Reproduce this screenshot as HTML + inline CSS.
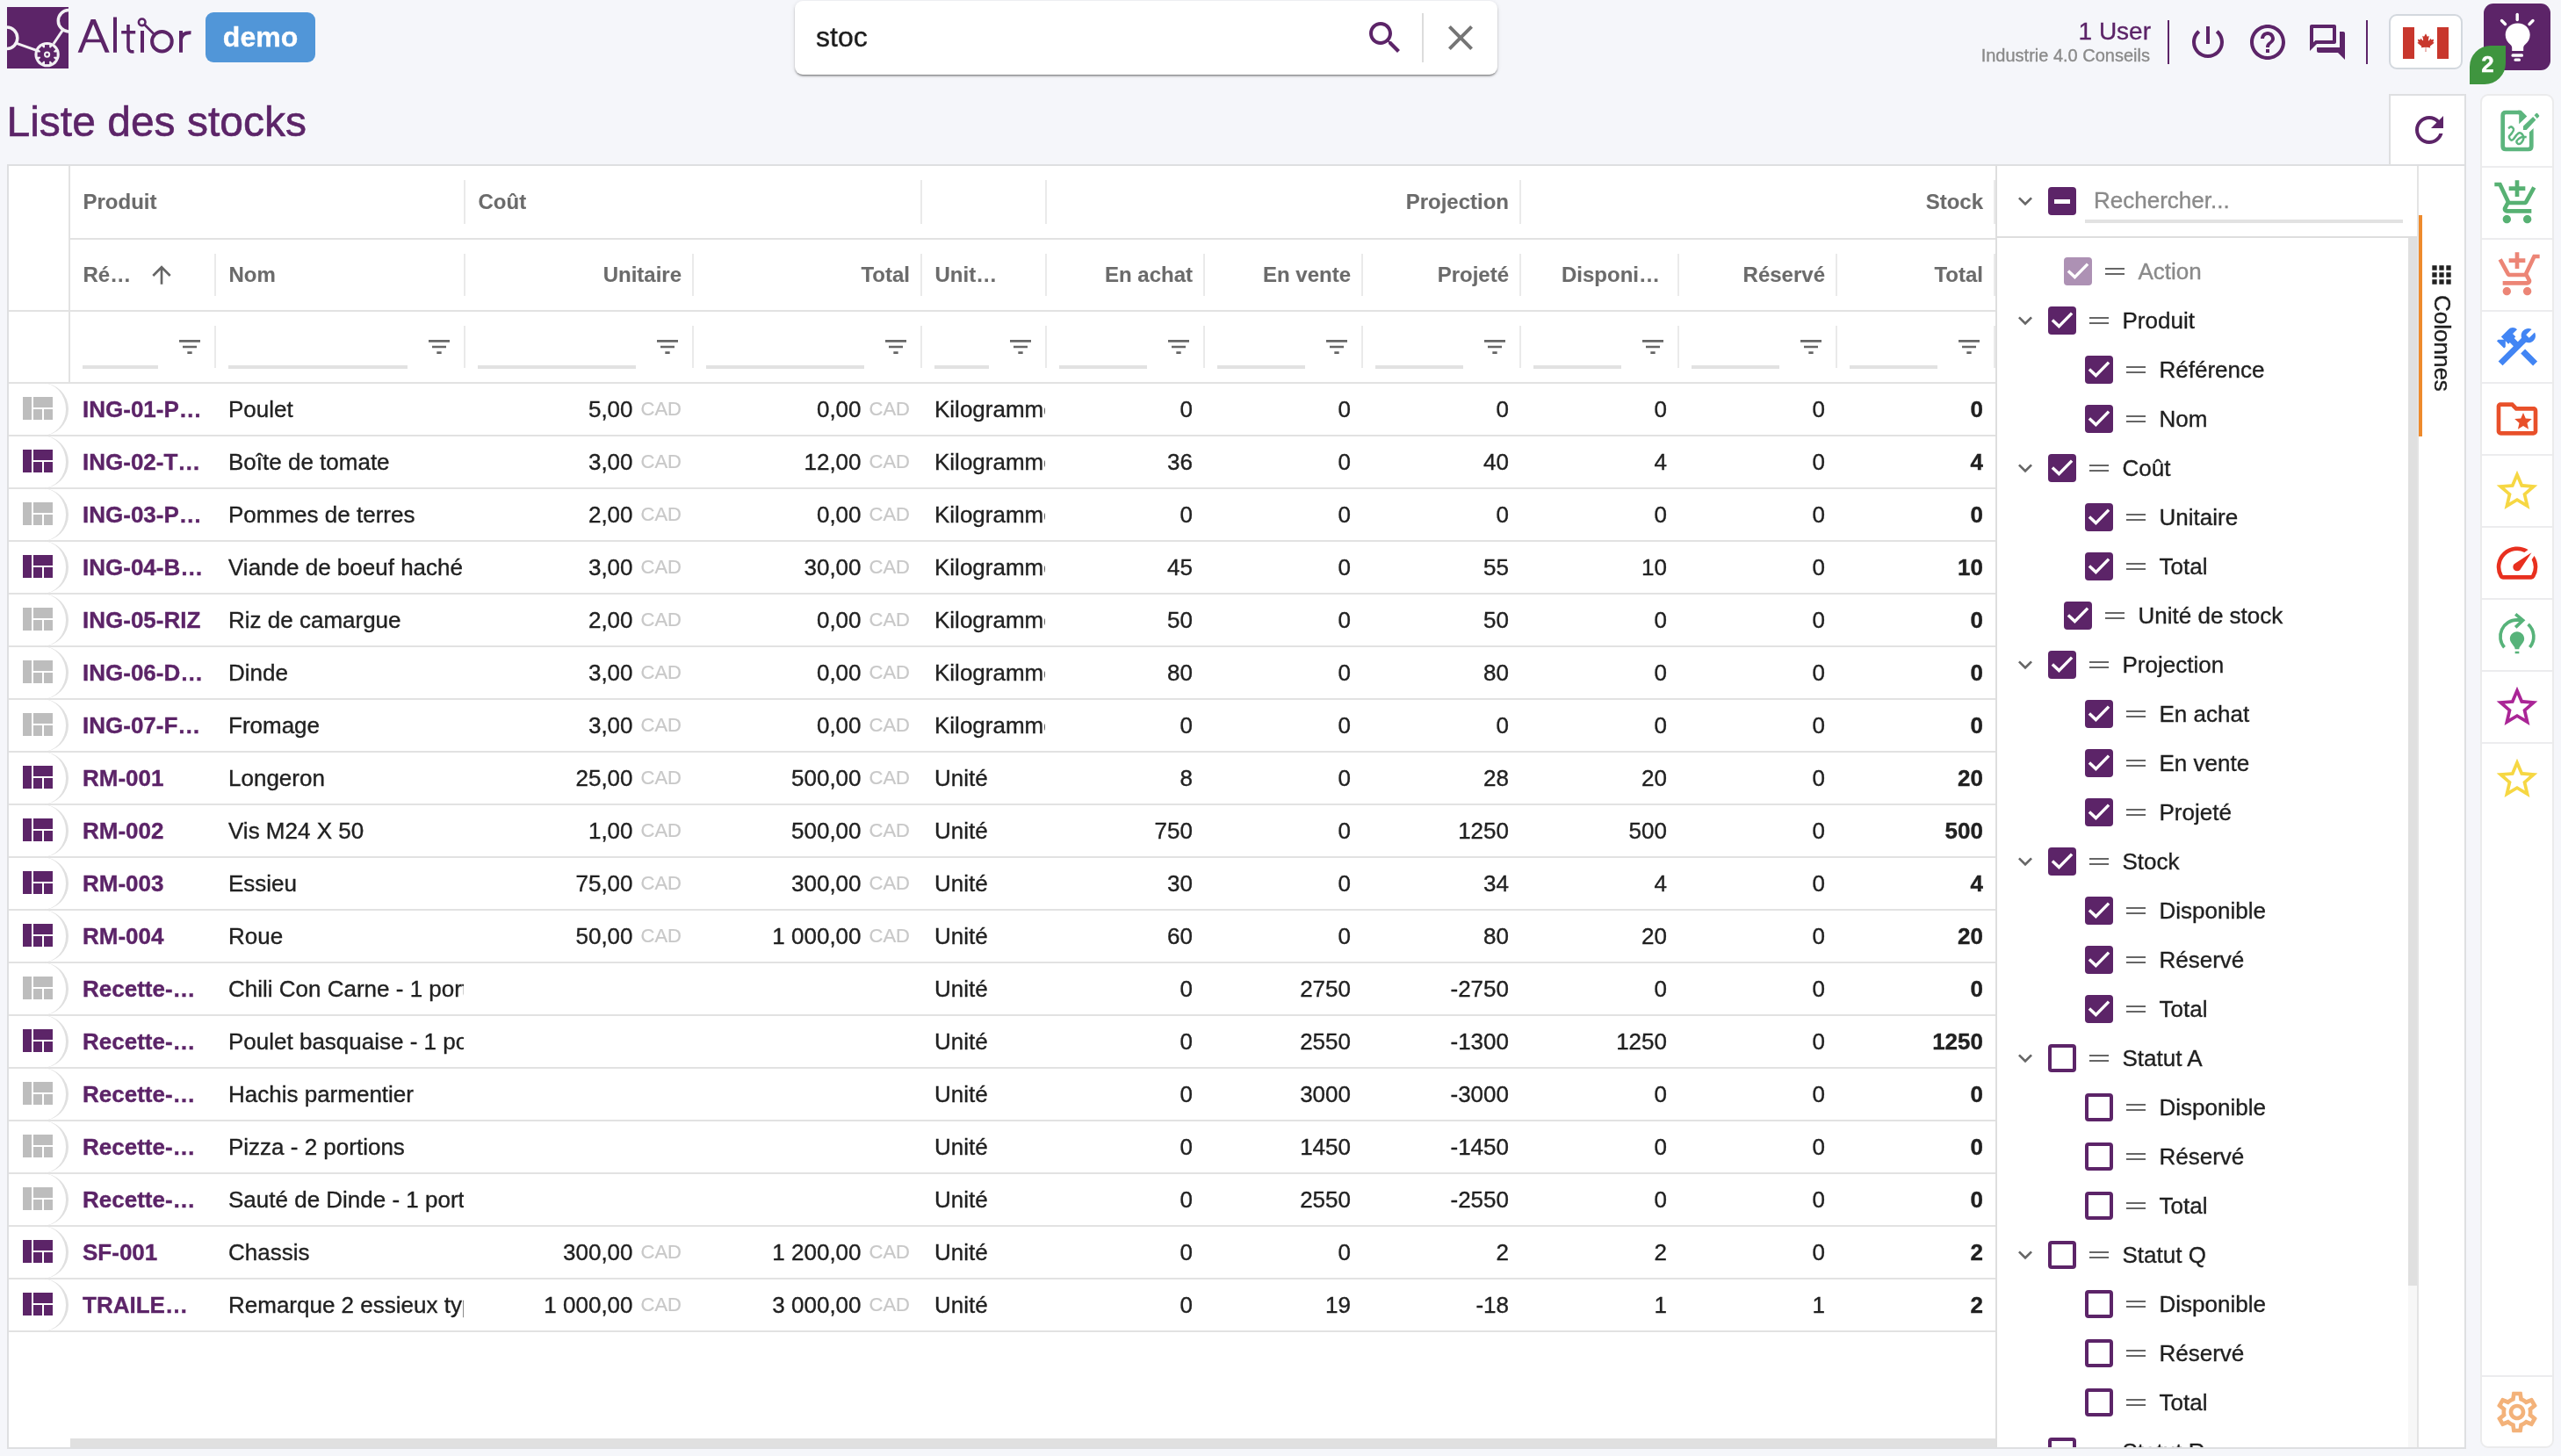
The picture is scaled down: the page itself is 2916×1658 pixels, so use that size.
<!DOCTYPE html>
<html><head><meta charset="utf-8"><title>Liste des stocks</title>
<style>
html,body{margin:0;padding:0}
body{width:2916px;height:1658px;overflow:hidden;will-change:transform;-webkit-text-stroke:.35px;background:#f5f6fa;font-family:"Liberation Sans",sans-serif;position:relative;color:#212121}
.abs,.ic{position:absolute}
.ic{display:block}
.t{position:absolute;white-space:nowrap;line-height:1}
/* grid */
#grid{position:absolute;left:8px;top:187px;width:2800px;height:1463px;background:#fff}
.hl{position:absolute;background:#e2e2e2}
.hdr{position:absolute;font-weight:bold;font-size:24px;color:#6a6a6a;white-space:nowrap;line-height:30px;overflow:hidden}
.row{position:absolute;left:2px;width:2262px;height:60px;border-bottom:2px solid #e2e2e2;box-sizing:border-box}
.c{position:absolute;top:0;height:58px;line-height:58px;font-size:26px;white-space:nowrap;overflow:hidden;box-sizing:border-box}
.num{text-align:right}
.ref{font-weight:bold;color:#5c2468}
.cad{font-size:22px;color:#c8c8c8;margin-left:9px;position:relative;top:-2.300px;-webkit-text-stroke:.2px}
.b{font-weight:bold}
.act{position:absolute;left:-32px;top:-2px;width:100px;height:60px;border:3px solid #dedede;border-radius:32px;box-sizing:border-box;border-left-color:transparent;border-top-color:transparent;border-bottom-color:transparent}
.fi{position:absolute;height:4px;background:#e2e2e2}
/* tool panel */
.tp{position:absolute;font-size:26px;white-space:nowrap;line-height:32px;height:32px}
.cb{position:absolute;width:32px;height:32px;border-radius:4px;box-sizing:border-box}
.cb.on{background:#5c2468}
.cb.dis{background:#ad91b4}
.cb.off{border:4px solid #5c2468;background:#fff}
</style></head><body>

<svg class="ic" style="left:8px;top:8px;width:70px;height:70px" viewBox="0 0 70 70">
<rect width="70" height="70" fill="#5c2468"/>
<g fill="none" stroke="#f3f1f4" stroke-width="3">
<circle cx="70.500" cy="15.700" r="12.200" stroke-width="3.500"/>
<circle cx="-0.500" cy="35.200" r="12.300" stroke-width="3.500"/>
<line x1="11" y1="41.300" x2="35" y2="49.800"/>
<line x1="52.900" y1="42" x2="63.200" y2="26.700"/>
</g>
<g transform="translate(-0.400 -0.400)"><circle cx="46" cy="54.500" r="14.200" fill="#f3f1f4"/>
<g fill="#5c2468">
<circle cx="46" cy="54.500" r="8.400"/>
</g>
<g stroke="#5c2468" stroke-width="5.200" stroke-linecap="butt">
<line x1="46" y1="43.500" x2="46" y2="65.500"/>
<line x1="35" y1="54.500" x2="57" y2="54.500"/>
<line x1="38.200" y1="46.700" x2="53.800" y2="62.300"/>
<line x1="38.200" y1="62.300" x2="53.800" y2="46.700"/>
</g>
<circle cx="46" cy="54.500" r="3.600" fill="#f3f1f4"/>
<circle cx="46" cy="54.500" r="1.600" fill="#5c2468"/>
</g></svg>
<svg class="ic" style="left:84px;top:14px;width:140px;height:52px" viewBox="84 14 140 52" fill="none" stroke="#5c2468" stroke-width="4" stroke-linejoin="miter">
<path d="M88.600 59.800 L103.600 22 L108.700 22 L124.700 59.800 L119.700 59.800 L114.850 48.300 H97.850 L93.300 59.800 Z M99.250 44.800 H113.400 L106.150 27.400 Z" fill="#5c2468" stroke="none" fill-rule="evenodd"/>
<path d="M131 19.500 V59.800"/>
<path d="M146 28 V54 Q146 59.500 152.500 58.800 M138.200 36.800 H154.200" stroke-width="3.600"/>
<path d="M162 35 V59.800"/>
<circle cx="161.700" cy="25.300" r="3.800" stroke-width="2.600"/>
<path d="M164.500 28 L175 38.500" stroke-width="2.600"/>
<circle cx="184.400" cy="47.200" r="11.300"/>
<path d="M206 35 V59.800 M206 45 Q207.500 36.500 217.500 37.300"/>
</svg>
<div class="abs" style="left:234px;top:14px;width:125px;height:57px;border-radius:9px;background:#5196d8"></div>
<div class="t" style="left:234px;top:26px;width:125px;text-align:center;font-size:32px;font-weight:bold;color:#fff">demo</div>
<div class="abs" style="left:905px;top:1px;width:800px;height:84px;border-radius:9px;background:#fff;box-shadow:0 3px 1px -2px rgba(0,0,0,.2),0 2px 2px 0 rgba(0,0,0,.25),0 1px 5px 0 rgba(0,0,0,.12)"></div>
<div class="t" style="left:929px;top:26px;font-size:32px;color:#1c1c1c">stoc</div>
<svg class="ic" style="left:1553px;top:19px;width:48px;height:48px;" viewBox="0 0 24 24"><path fill="#5c2468" d="M15.5 14h-.79l-.28-.27C15.41 12.59 16 11.11 16 9.5 16 5.91 13.09 3 9.5 3S3 5.91 3 9.5 5.91 16 9.5 16c1.61 0 3.09-.59 4.23-1.57l.27.28v.79l5 4.99L20.49 19l-4.99-5zm-6 0C7.01 14 5 11.99 5 9.5S7.01 5 9.5 5 14 7.01 14 9.5 11.99 14 9.5 14z"/></svg>
<div class="abs" style="left:1619px;top:15px;width:2px;height:56px;background:#dcdcdc"></div>
<svg class="ic" style="left:1639px;top:19px;width:48px;height:48px;" viewBox="0 0 24 24"><path fill="#757575" d="M19 6.41L17.59 5 12 10.59 6.41 5 5 6.41 10.59 12 5 17.59 6.41 19 12 13.41 17.59 19 19 17.59 13.41 12z"/></svg>
<div class="t" style="right:467px;top:21.500px;font-size:28px;color:#5c2468">1 User</div>
<div class="t" style="right:468px;top:52.500px;font-size:20px;color:#8a8a8a">Industrie 4.0 Conseils</div>
<div class="abs" style="left:2468px;top:23px;width:2px;height:50px;background:#5c2468"></div>
<svg class="ic" style="left:2490px;top:24px;width:48px;height:48px;" viewBox="0 0 24 24"><path fill="#5c2468" d="M13 3h-2v10h2V3zm4.83 2.17l-1.42 1.42C17.99 7.86 19 9.81 19 12c0 3.87-3.13 7-7 7s-7-3.13-7-7c0-2.19 1.01-4.14 2.58-5.42L6.17 5.17C4.23 6.82 3 9.26 3 12c0 4.97 4.03 9 9 9s9-4.03 9-9c0-2.74-1.23-5.18-3.17-6.83z"/></svg>
<svg class="ic" style="left:2558px;top:24px;width:48px;height:48px;" viewBox="0 0 24 24"><path fill="#5c2468" d="M11 18h2v-2h-2v2zm1-16C6.48 2 2 6.48 2 12s4.48 10 10 10 10-4.48 10-10S17.52 2 12 2zm0 18c-4.41 0-8-3.59-8-8s3.59-8 8-8 8 3.59 8 8-3.59 8-8 8zm0-14c-2.21 0-4 1.79-4 4h2c0-1.1.9-2 2-2s2 .9 2 2c0 2-3 1.75-3 5h2c0-2.25 3-2.5 3-5 0-2.21-1.79-4-4-4z"/></svg>
<svg class="ic" style="left:2626px;top:24px;width:48px;height:48px;" viewBox="0 0 24 24"><path fill="#5c2468" d="M15 4v7H5.17L4 12.17V4h11m1-2H3c-.55 0-1 .45-1 1v14l4-4h10c.55 0 1-.45 1-1V3c0-.55-.45-1-1-1zm5 4h-2v9H6v2c0 .55.45 1 1 1h11l4 4V7c0-.55-.45-1-1-1z"/></svg>
<div class="abs" style="left:2694px;top:23px;width:2px;height:50px;background:#5c2468"></div>
<div class="abs" style="left:2720px;top:16px;width:84px;height:63px;border:2px solid #d3d8de;border-radius:9px;background:#fff;box-sizing:border-box"></div>
<svg class="ic" style="left:2736px;top:31px;width:52px;height:36px" viewBox="0 0 52 36">
<rect width="52" height="36" fill="#fff"/><rect width="13" height="36" fill="#c8372d"/><rect x="39" width="13" height="36" fill="#c8372d"/>
<path transform="translate(26 16.800) scale(.80) translate(-26 -19.500)" fill="#c8372d" d="M26 7.500l-2.100 3.900c-.24.42-.66.380-1.080.150l-1.520-.79 1.130 6.010c.24 1.100-.53 1.100-.9.620l-2.650-2.970-.43 1.510c-.05.2-.27.410-.6.360l-3.350-.7.880 3.200c.19.710.34 1.010-.19 1.200l-1.190.56 5.770 4.680c.23.180.340.500.260.790l-.5 1.660c1.980-.23 3.760-.57 5.750-.79.180-.02.470.27.470.47L25.500 33.500h1l-.16-6.050c0-.2.260-.5.440-.48 1.990.21 3.770.56 5.750.79l-.5-1.660c-.08-.29.030-.61.260-.79l5.770-4.680-1.190-.56c-.53-.19-.38-.49-.19-1.200l.88-3.200-3.350.7c-.33.050-.55-.16-.6-.36l-.43-1.510-2.650 2.970c-.38.480-1.140.480-.9-.62l1.130-6.010-1.520.79c-.42.240-.84.280-1.080-.150z"/>
</svg>
<div class="abs" style="left:2828px;top:4px;width:76px;height:76px;border-radius:11px;background:#5c2468"></div>
<svg class="ic" style="left:2828px;top:4px;width:76px;height:76px" viewBox="0 0 76 76">
<g stroke="#fff" stroke-width="3.400" stroke-linecap="round"><line x1="38.200" y1="12.500" x2="38.200" y2="18.500"/><line x1="20.500" y1="19.500" x2="24.500" y2="23.500"/><line x1="56" y1="19.500" x2="52" y2="23.500"/></g>
<path fill="#fff" d="M38.200 22.500c-7.500 0-13.500 5.900-13.500 13.200 0 4.600 2.300 8.400 5.600 11 1.200 1 1.900 2.400 1.900 3.900v3.400h13v-3.400c0-1.500.7-2.900 1.900-3.900 3.300-2.600 5.600-6.400 5.600-11 0-7.300-6-13.200-13.500-13.200z"/>
<rect x="31.500" y="57.300" width="13.500" height="3.400" rx="1.500" fill="#fff"/><rect x="34.500" y="62.500" width="7.500" height="3.200" rx="1.500" fill="#fff"/>
</svg>
<div class="abs" style="left:2812px;top:52px;width:41px;height:44px;background:#3f953f;border-radius:24px 0 24px 0"></div>
<div class="t" style="left:2812px;top:60px;width:41px;text-align:center;font-size:26px;font-weight:bold;color:#fff">2</div>
<div class="t" style="left:7.500px;top:115px;-webkit-text-stroke:.6px;font-size:48px;color:#5c2468">Liste des stocks</div>
<div class="abs" style="left:2720px;top:107px;width:88px;height:82px;border:2px solid #dedfe1;border-bottom:none;background:#fff;box-sizing:border-box"></div>
<svg class="ic" style="left:2742px;top:124px;width:48px;height:48px;" viewBox="0 0 24 24"><path fill="#5c2468" d="M17.65 6.35C16.2 4.9 14.21 4 12 4c-4.42 0-7.99 3.58-7.99 8s3.57 8 7.99 8c3.73 0 6.84-2.55 7.73-6h-2.08c-.82 2.33-3.04 4-5.65 4-3.31 0-6-2.69-6-6s2.69-6 6-6c1.66 0 3.14.69 4.22 1.78L13 11h7V4l-2.35 2.35z"/></svg>
<div class="abs" style="left:8px;top:187px;width:2800px;height:1463px;border:2px solid #dedfe1;box-sizing:border-box;background:#fff"></div>
<div class="abs" style="left:80px;top:271px;width:2192px;height:2px;background:#e2e2e2"></div>
<div class="abs" style="left:10px;top:353px;width:2262px;height:2px;background:#e2e2e2"></div>
<div class="abs" style="left:10px;top:435px;width:2262px;height:2px;background:#e2e2e2"></div>
<div class="abs" style="left:78px;top:189px;width:2px;height:246px;background:#e2e2e2"></div>
<div class="abs" style="left:528px;top:205px;width:2px;height:50px;background:#eaeaea"></div>
<div class="abs" style="left:1048px;top:205px;width:2px;height:50px;background:#eaeaea"></div>
<div class="abs" style="left:1190px;top:205px;width:2px;height:50px;background:#eaeaea"></div>
<div class="abs" style="left:1730px;top:205px;width:2px;height:50px;background:#eaeaea"></div>
<div class="abs" style="left:2270px;top:205px;width:2px;height:50px;background:#eaeaea"></div>
<div class="abs" style="left:244px;top:289px;width:2px;height:48px;background:#eaeaea"></div>
<div class="abs" style="left:244px;top:371px;width:2px;height:48px;background:#eaeaea"></div>
<div class="abs" style="left:528px;top:289px;width:2px;height:48px;background:#eaeaea"></div>
<div class="abs" style="left:528px;top:371px;width:2px;height:48px;background:#eaeaea"></div>
<div class="abs" style="left:788px;top:289px;width:2px;height:48px;background:#eaeaea"></div>
<div class="abs" style="left:788px;top:371px;width:2px;height:48px;background:#eaeaea"></div>
<div class="abs" style="left:1048px;top:289px;width:2px;height:48px;background:#eaeaea"></div>
<div class="abs" style="left:1048px;top:371px;width:2px;height:48px;background:#eaeaea"></div>
<div class="abs" style="left:1190px;top:289px;width:2px;height:48px;background:#eaeaea"></div>
<div class="abs" style="left:1190px;top:371px;width:2px;height:48px;background:#eaeaea"></div>
<div class="abs" style="left:1370px;top:289px;width:2px;height:48px;background:#eaeaea"></div>
<div class="abs" style="left:1370px;top:371px;width:2px;height:48px;background:#eaeaea"></div>
<div class="abs" style="left:1550px;top:289px;width:2px;height:48px;background:#eaeaea"></div>
<div class="abs" style="left:1550px;top:371px;width:2px;height:48px;background:#eaeaea"></div>
<div class="abs" style="left:1730px;top:289px;width:2px;height:48px;background:#eaeaea"></div>
<div class="abs" style="left:1730px;top:371px;width:2px;height:48px;background:#eaeaea"></div>
<div class="abs" style="left:1910px;top:289px;width:2px;height:48px;background:#eaeaea"></div>
<div class="abs" style="left:1910px;top:371px;width:2px;height:48px;background:#eaeaea"></div>
<div class="abs" style="left:2090px;top:289px;width:2px;height:48px;background:#eaeaea"></div>
<div class="abs" style="left:2090px;top:371px;width:2px;height:48px;background:#eaeaea"></div>
<div class="abs" style="left:2270px;top:289px;width:2px;height:48px;background:#eaeaea"></div>
<div class="abs" style="left:2270px;top:371px;width:2px;height:48px;background:#eaeaea"></div>
<div class="t" style="left:94.5px;top:218px;font-size:24px;font-weight:bold;-webkit-text-stroke:.1px;color:#6b6b6b">Produit</div>
<div class="t" style="left:544.5px;top:218px;font-size:24px;font-weight:bold;-webkit-text-stroke:.1px;color:#6b6b6b">Coût</div>
<div class="t" style="right:1198px;top:218px;font-size:24px;font-weight:bold;-webkit-text-stroke:.1px;color:#6b6b6b">Projection</div>
<div class="t" style="right:658px;top:218px;font-size:24px;font-weight:bold;-webkit-text-stroke:.1px;color:#6b6b6b">Stock</div>
<div class="t" style="left:94.5px;top:300.5px;font-size:24px;font-weight:bold;-webkit-text-stroke:.1px;color:#6b6b6b">Ré…</div>
<svg class="ic" style="left:168px;top:297px;width:32px;height:32px;" viewBox="0 0 24 24"><path fill="#666" d="M4 12l1.41 1.41L11 7.83V20h2V7.83l5.58 5.59L20 12l-8-8-8 8z"/></svg>
<div class="t" style="left:260.5px;top:300.5px;font-size:24px;font-weight:bold;-webkit-text-stroke:.1px;color:#6b6b6b">Nom</div>
<div class="t" style="right:2140px;top:300.5px;font-size:24px;font-weight:bold;-webkit-text-stroke:.1px;color:#6b6b6b">Unitaire</div>
<div class="t" style="right:1880px;top:300.5px;font-size:24px;font-weight:bold;-webkit-text-stroke:.1px;color:#6b6b6b">Total</div>
<div class="t" style="left:1064.5px;top:300.5px;font-size:24px;font-weight:bold;-webkit-text-stroke:.1px;color:#6b6b6b">Unit…</div>
<div class="t" style="right:1558px;top:300.5px;font-size:24px;font-weight:bold;-webkit-text-stroke:.1px;color:#6b6b6b">En achat</div>
<div class="t" style="right:1378px;top:300.5px;font-size:24px;font-weight:bold;-webkit-text-stroke:.1px;color:#6b6b6b">En vente</div>
<div class="t" style="right:1198px;top:300.5px;font-size:24px;font-weight:bold;-webkit-text-stroke:.1px;color:#6b6b6b">Projeté</div>
<div class="t" style="right:1026px;top:300.5px;font-size:24px;font-weight:bold;-webkit-text-stroke:.1px;color:#6b6b6b">Disponi…</div>
<div class="t" style="right:838px;top:300.5px;font-size:24px;font-weight:bold;-webkit-text-stroke:.1px;color:#6b6b6b">Réservé</div>
<div class="t" style="right:658px;top:300.5px;font-size:24px;font-weight:bold;-webkit-text-stroke:.1px;color:#6b6b6b">Total</div>
<div class="abs" style="left:94px;top:416px;width:86px;height:4px;background:#e2e2e2"></div>
<svg class="ic" style="left:199.5px;top:379px;width:32px;height:32px;" viewBox="0 0 24 24"><path fill="#666" d="M10 18h4v-2h-4v2zM3 6v2h18V6H3zm3 7h12v-2H6v2z"/></svg>
<div class="abs" style="left:260px;top:416px;width:204px;height:4px;background:#e2e2e2"></div>
<svg class="ic" style="left:483.5px;top:379px;width:32px;height:32px;" viewBox="0 0 24 24"><path fill="#666" d="M10 18h4v-2h-4v2zM3 6v2h18V6H3zm3 7h12v-2H6v2z"/></svg>
<div class="abs" style="left:544px;top:416px;width:180px;height:4px;background:#e2e2e2"></div>
<svg class="ic" style="left:743.5px;top:379px;width:32px;height:32px;" viewBox="0 0 24 24"><path fill="#666" d="M10 18h4v-2h-4v2zM3 6v2h18V6H3zm3 7h12v-2H6v2z"/></svg>
<div class="abs" style="left:804px;top:416px;width:180px;height:4px;background:#e2e2e2"></div>
<svg class="ic" style="left:1003.5px;top:379px;width:32px;height:32px;" viewBox="0 0 24 24"><path fill="#666" d="M10 18h4v-2h-4v2zM3 6v2h18V6H3zm3 7h12v-2H6v2z"/></svg>
<div class="abs" style="left:1064px;top:416px;width:62px;height:4px;background:#e2e2e2"></div>
<svg class="ic" style="left:1145.5px;top:379px;width:32px;height:32px;" viewBox="0 0 24 24"><path fill="#666" d="M10 18h4v-2h-4v2zM3 6v2h18V6H3zm3 7h12v-2H6v2z"/></svg>
<div class="abs" style="left:1206px;top:416px;width:100px;height:4px;background:#e2e2e2"></div>
<svg class="ic" style="left:1325.5px;top:379px;width:32px;height:32px;" viewBox="0 0 24 24"><path fill="#666" d="M10 18h4v-2h-4v2zM3 6v2h18V6H3zm3 7h12v-2H6v2z"/></svg>
<div class="abs" style="left:1386px;top:416px;width:100px;height:4px;background:#e2e2e2"></div>
<svg class="ic" style="left:1505.5px;top:379px;width:32px;height:32px;" viewBox="0 0 24 24"><path fill="#666" d="M10 18h4v-2h-4v2zM3 6v2h18V6H3zm3 7h12v-2H6v2z"/></svg>
<div class="abs" style="left:1566px;top:416px;width:100px;height:4px;background:#e2e2e2"></div>
<svg class="ic" style="left:1685.5px;top:379px;width:32px;height:32px;" viewBox="0 0 24 24"><path fill="#666" d="M10 18h4v-2h-4v2zM3 6v2h18V6H3zm3 7h12v-2H6v2z"/></svg>
<div class="abs" style="left:1746px;top:416px;width:100px;height:4px;background:#e2e2e2"></div>
<svg class="ic" style="left:1865.5px;top:379px;width:32px;height:32px;" viewBox="0 0 24 24"><path fill="#666" d="M10 18h4v-2h-4v2zM3 6v2h18V6H3zm3 7h12v-2H6v2z"/></svg>
<div class="abs" style="left:1926px;top:416px;width:100px;height:4px;background:#e2e2e2"></div>
<svg class="ic" style="left:2045.5px;top:379px;width:32px;height:32px;" viewBox="0 0 24 24"><path fill="#666" d="M10 18h4v-2h-4v2zM3 6v2h18V6H3zm3 7h12v-2H6v2z"/></svg>
<div class="abs" style="left:2106px;top:416px;width:100px;height:4px;background:#e2e2e2"></div>
<svg class="ic" style="left:2225.5px;top:379px;width:32px;height:32px;" viewBox="0 0 24 24"><path fill="#666" d="M10 18h4v-2h-4v2zM3 6v2h18V6H3zm3 7h12v-2H6v2z"/></svg>
<div class="abs" style="left:10px;top:437px;width:2262px;height:60px">
<div class="abs" style="left:0;top:58px;width:2262px;height:2px;background:#e2e2e2"></div>
<div class="abs" style="left:0;top:-1px;width:68px;height:60px;border-right:3px solid #e0e0e0;border-radius:0 30px 30px 0;box-sizing:border-box"></div>
<svg class="ic" style="left:8px;top:5px;width:48px;height:48px" viewBox="0 0 24 24"><path fill="#bdbdbd" d="M10 18h5v-6h-5v6zm-6 0h5V5H4v13zm12 0h5v-6h-5v6zM10 5v6h11V5H10z"/></svg>
<div class="c ref" style="left:70px;width:164px;padding-left:14px;padding-right:0px">ING-01-P…</div>
<div class="c " style="left:236px;width:282px;padding-left:14px;padding-right:0px">Poulet</div>
<div class="c num" style="left:520px;width:258px;padding-left:14px;padding-right:12px">5,00<span class="cad">CAD</span></div>
<div class="c num" style="left:780px;width:258px;padding-left:14px;padding-right:12px">0,00<span class="cad">CAD</span></div>
<div class="c " style="left:1040px;width:140px;padding-left:14px;padding-right:2px">Kilogramme</div>
<div class="c num" style="left:1182px;width:178px;padding-left:14px;padding-right:12px">0</div>
<div class="c num" style="left:1362px;width:178px;padding-left:14px;padding-right:12px">0</div>
<div class="c num" style="left:1542px;width:178px;padding-left:14px;padding-right:12px">0</div>
<div class="c num" style="left:1722px;width:178px;padding-left:14px;padding-right:12px">0</div>
<div class="c num" style="left:1902px;width:178px;padding-left:14px;padding-right:12px">0</div>
<div class="c num b" style="left:2082px;width:178px;padding-left:14px;padding-right:12px">0</div>
</div>
<div class="abs" style="left:10px;top:497px;width:2262px;height:60px">
<div class="abs" style="left:0;top:58px;width:2262px;height:2px;background:#e2e2e2"></div>
<div class="abs" style="left:0;top:-1px;width:68px;height:60px;border-right:3px solid #e0e0e0;border-radius:0 30px 30px 0;box-sizing:border-box"></div>
<svg class="ic" style="left:8px;top:5px;width:48px;height:48px" viewBox="0 0 24 24"><path fill="#5c2468" d="M10 18h5v-6h-5v6zm-6 0h5V5H4v13zm12 0h5v-6h-5v6zM10 5v6h11V5H10z"/></svg>
<div class="c ref" style="left:70px;width:164px;padding-left:14px;padding-right:0px">ING-02-T…</div>
<div class="c " style="left:236px;width:282px;padding-left:14px;padding-right:0px">Boîte de tomate</div>
<div class="c num" style="left:520px;width:258px;padding-left:14px;padding-right:12px">3,00<span class="cad">CAD</span></div>
<div class="c num" style="left:780px;width:258px;padding-left:14px;padding-right:12px">12,00<span class="cad">CAD</span></div>
<div class="c " style="left:1040px;width:140px;padding-left:14px;padding-right:2px">Kilogramme</div>
<div class="c num" style="left:1182px;width:178px;padding-left:14px;padding-right:12px">36</div>
<div class="c num" style="left:1362px;width:178px;padding-left:14px;padding-right:12px">0</div>
<div class="c num" style="left:1542px;width:178px;padding-left:14px;padding-right:12px">40</div>
<div class="c num" style="left:1722px;width:178px;padding-left:14px;padding-right:12px">4</div>
<div class="c num" style="left:1902px;width:178px;padding-left:14px;padding-right:12px">0</div>
<div class="c num b" style="left:2082px;width:178px;padding-left:14px;padding-right:12px">4</div>
</div>
<div class="abs" style="left:10px;top:557px;width:2262px;height:60px">
<div class="abs" style="left:0;top:58px;width:2262px;height:2px;background:#e2e2e2"></div>
<div class="abs" style="left:0;top:-1px;width:68px;height:60px;border-right:3px solid #e0e0e0;border-radius:0 30px 30px 0;box-sizing:border-box"></div>
<svg class="ic" style="left:8px;top:5px;width:48px;height:48px" viewBox="0 0 24 24"><path fill="#bdbdbd" d="M10 18h5v-6h-5v6zm-6 0h5V5H4v13zm12 0h5v-6h-5v6zM10 5v6h11V5H10z"/></svg>
<div class="c ref" style="left:70px;width:164px;padding-left:14px;padding-right:0px">ING-03-P…</div>
<div class="c " style="left:236px;width:282px;padding-left:14px;padding-right:0px">Pommes de terres</div>
<div class="c num" style="left:520px;width:258px;padding-left:14px;padding-right:12px">2,00<span class="cad">CAD</span></div>
<div class="c num" style="left:780px;width:258px;padding-left:14px;padding-right:12px">0,00<span class="cad">CAD</span></div>
<div class="c " style="left:1040px;width:140px;padding-left:14px;padding-right:2px">Kilogramme</div>
<div class="c num" style="left:1182px;width:178px;padding-left:14px;padding-right:12px">0</div>
<div class="c num" style="left:1362px;width:178px;padding-left:14px;padding-right:12px">0</div>
<div class="c num" style="left:1542px;width:178px;padding-left:14px;padding-right:12px">0</div>
<div class="c num" style="left:1722px;width:178px;padding-left:14px;padding-right:12px">0</div>
<div class="c num" style="left:1902px;width:178px;padding-left:14px;padding-right:12px">0</div>
<div class="c num b" style="left:2082px;width:178px;padding-left:14px;padding-right:12px">0</div>
</div>
<div class="abs" style="left:10px;top:617px;width:2262px;height:60px">
<div class="abs" style="left:0;top:58px;width:2262px;height:2px;background:#e2e2e2"></div>
<div class="abs" style="left:0;top:-1px;width:68px;height:60px;border-right:3px solid #e0e0e0;border-radius:0 30px 30px 0;box-sizing:border-box"></div>
<svg class="ic" style="left:8px;top:5px;width:48px;height:48px" viewBox="0 0 24 24"><path fill="#5c2468" d="M10 18h5v-6h-5v6zm-6 0h5V5H4v13zm12 0h5v-6h-5v6zM10 5v6h11V5H10z"/></svg>
<div class="c ref" style="left:70px;width:164px;padding-left:14px;padding-right:0px">ING-04-B…</div>
<div class="c " style="left:236px;width:282px;padding-left:14px;padding-right:0px">Viande de boeuf haché</div>
<div class="c num" style="left:520px;width:258px;padding-left:14px;padding-right:12px">3,00<span class="cad">CAD</span></div>
<div class="c num" style="left:780px;width:258px;padding-left:14px;padding-right:12px">30,00<span class="cad">CAD</span></div>
<div class="c " style="left:1040px;width:140px;padding-left:14px;padding-right:2px">Kilogramme</div>
<div class="c num" style="left:1182px;width:178px;padding-left:14px;padding-right:12px">45</div>
<div class="c num" style="left:1362px;width:178px;padding-left:14px;padding-right:12px">0</div>
<div class="c num" style="left:1542px;width:178px;padding-left:14px;padding-right:12px">55</div>
<div class="c num" style="left:1722px;width:178px;padding-left:14px;padding-right:12px">10</div>
<div class="c num" style="left:1902px;width:178px;padding-left:14px;padding-right:12px">0</div>
<div class="c num b" style="left:2082px;width:178px;padding-left:14px;padding-right:12px">10</div>
</div>
<div class="abs" style="left:10px;top:677px;width:2262px;height:60px">
<div class="abs" style="left:0;top:58px;width:2262px;height:2px;background:#e2e2e2"></div>
<div class="abs" style="left:0;top:-1px;width:68px;height:60px;border-right:3px solid #e0e0e0;border-radius:0 30px 30px 0;box-sizing:border-box"></div>
<svg class="ic" style="left:8px;top:5px;width:48px;height:48px" viewBox="0 0 24 24"><path fill="#bdbdbd" d="M10 18h5v-6h-5v6zm-6 0h5V5H4v13zm12 0h5v-6h-5v6zM10 5v6h11V5H10z"/></svg>
<div class="c ref" style="left:70px;width:164px;padding-left:14px;padding-right:0px">ING-05-RIZ</div>
<div class="c " style="left:236px;width:282px;padding-left:14px;padding-right:0px">Riz de camargue</div>
<div class="c num" style="left:520px;width:258px;padding-left:14px;padding-right:12px">2,00<span class="cad">CAD</span></div>
<div class="c num" style="left:780px;width:258px;padding-left:14px;padding-right:12px">0,00<span class="cad">CAD</span></div>
<div class="c " style="left:1040px;width:140px;padding-left:14px;padding-right:2px">Kilogramme</div>
<div class="c num" style="left:1182px;width:178px;padding-left:14px;padding-right:12px">50</div>
<div class="c num" style="left:1362px;width:178px;padding-left:14px;padding-right:12px">0</div>
<div class="c num" style="left:1542px;width:178px;padding-left:14px;padding-right:12px">50</div>
<div class="c num" style="left:1722px;width:178px;padding-left:14px;padding-right:12px">0</div>
<div class="c num" style="left:1902px;width:178px;padding-left:14px;padding-right:12px">0</div>
<div class="c num b" style="left:2082px;width:178px;padding-left:14px;padding-right:12px">0</div>
</div>
<div class="abs" style="left:10px;top:737px;width:2262px;height:60px">
<div class="abs" style="left:0;top:58px;width:2262px;height:2px;background:#e2e2e2"></div>
<div class="abs" style="left:0;top:-1px;width:68px;height:60px;border-right:3px solid #e0e0e0;border-radius:0 30px 30px 0;box-sizing:border-box"></div>
<svg class="ic" style="left:8px;top:5px;width:48px;height:48px" viewBox="0 0 24 24"><path fill="#bdbdbd" d="M10 18h5v-6h-5v6zm-6 0h5V5H4v13zm12 0h5v-6h-5v6zM10 5v6h11V5H10z"/></svg>
<div class="c ref" style="left:70px;width:164px;padding-left:14px;padding-right:0px">ING-06-D…</div>
<div class="c " style="left:236px;width:282px;padding-left:14px;padding-right:0px">Dinde</div>
<div class="c num" style="left:520px;width:258px;padding-left:14px;padding-right:12px">3,00<span class="cad">CAD</span></div>
<div class="c num" style="left:780px;width:258px;padding-left:14px;padding-right:12px">0,00<span class="cad">CAD</span></div>
<div class="c " style="left:1040px;width:140px;padding-left:14px;padding-right:2px">Kilogramme</div>
<div class="c num" style="left:1182px;width:178px;padding-left:14px;padding-right:12px">80</div>
<div class="c num" style="left:1362px;width:178px;padding-left:14px;padding-right:12px">0</div>
<div class="c num" style="left:1542px;width:178px;padding-left:14px;padding-right:12px">80</div>
<div class="c num" style="left:1722px;width:178px;padding-left:14px;padding-right:12px">0</div>
<div class="c num" style="left:1902px;width:178px;padding-left:14px;padding-right:12px">0</div>
<div class="c num b" style="left:2082px;width:178px;padding-left:14px;padding-right:12px">0</div>
</div>
<div class="abs" style="left:10px;top:797px;width:2262px;height:60px">
<div class="abs" style="left:0;top:58px;width:2262px;height:2px;background:#e2e2e2"></div>
<div class="abs" style="left:0;top:-1px;width:68px;height:60px;border-right:3px solid #e0e0e0;border-radius:0 30px 30px 0;box-sizing:border-box"></div>
<svg class="ic" style="left:8px;top:5px;width:48px;height:48px" viewBox="0 0 24 24"><path fill="#bdbdbd" d="M10 18h5v-6h-5v6zm-6 0h5V5H4v13zm12 0h5v-6h-5v6zM10 5v6h11V5H10z"/></svg>
<div class="c ref" style="left:70px;width:164px;padding-left:14px;padding-right:0px">ING-07-F…</div>
<div class="c " style="left:236px;width:282px;padding-left:14px;padding-right:0px">Fromage</div>
<div class="c num" style="left:520px;width:258px;padding-left:14px;padding-right:12px">3,00<span class="cad">CAD</span></div>
<div class="c num" style="left:780px;width:258px;padding-left:14px;padding-right:12px">0,00<span class="cad">CAD</span></div>
<div class="c " style="left:1040px;width:140px;padding-left:14px;padding-right:2px">Kilogramme</div>
<div class="c num" style="left:1182px;width:178px;padding-left:14px;padding-right:12px">0</div>
<div class="c num" style="left:1362px;width:178px;padding-left:14px;padding-right:12px">0</div>
<div class="c num" style="left:1542px;width:178px;padding-left:14px;padding-right:12px">0</div>
<div class="c num" style="left:1722px;width:178px;padding-left:14px;padding-right:12px">0</div>
<div class="c num" style="left:1902px;width:178px;padding-left:14px;padding-right:12px">0</div>
<div class="c num b" style="left:2082px;width:178px;padding-left:14px;padding-right:12px">0</div>
</div>
<div class="abs" style="left:10px;top:857px;width:2262px;height:60px">
<div class="abs" style="left:0;top:58px;width:2262px;height:2px;background:#e2e2e2"></div>
<div class="abs" style="left:0;top:-1px;width:68px;height:60px;border-right:3px solid #e0e0e0;border-radius:0 30px 30px 0;box-sizing:border-box"></div>
<svg class="ic" style="left:8px;top:5px;width:48px;height:48px" viewBox="0 0 24 24"><path fill="#5c2468" d="M10 18h5v-6h-5v6zm-6 0h5V5H4v13zm12 0h5v-6h-5v6zM10 5v6h11V5H10z"/></svg>
<div class="c ref" style="left:70px;width:164px;padding-left:14px;padding-right:0px">RM-001</div>
<div class="c " style="left:236px;width:282px;padding-left:14px;padding-right:0px">Longeron</div>
<div class="c num" style="left:520px;width:258px;padding-left:14px;padding-right:12px">25,00<span class="cad">CAD</span></div>
<div class="c num" style="left:780px;width:258px;padding-left:14px;padding-right:12px">500,00<span class="cad">CAD</span></div>
<div class="c " style="left:1040px;width:140px;padding-left:14px;padding-right:2px">Unité</div>
<div class="c num" style="left:1182px;width:178px;padding-left:14px;padding-right:12px">8</div>
<div class="c num" style="left:1362px;width:178px;padding-left:14px;padding-right:12px">0</div>
<div class="c num" style="left:1542px;width:178px;padding-left:14px;padding-right:12px">28</div>
<div class="c num" style="left:1722px;width:178px;padding-left:14px;padding-right:12px">20</div>
<div class="c num" style="left:1902px;width:178px;padding-left:14px;padding-right:12px">0</div>
<div class="c num b" style="left:2082px;width:178px;padding-left:14px;padding-right:12px">20</div>
</div>
<div class="abs" style="left:10px;top:917px;width:2262px;height:60px">
<div class="abs" style="left:0;top:58px;width:2262px;height:2px;background:#e2e2e2"></div>
<div class="abs" style="left:0;top:-1px;width:68px;height:60px;border-right:3px solid #e0e0e0;border-radius:0 30px 30px 0;box-sizing:border-box"></div>
<svg class="ic" style="left:8px;top:5px;width:48px;height:48px" viewBox="0 0 24 24"><path fill="#5c2468" d="M10 18h5v-6h-5v6zm-6 0h5V5H4v13zm12 0h5v-6h-5v6zM10 5v6h11V5H10z"/></svg>
<div class="c ref" style="left:70px;width:164px;padding-left:14px;padding-right:0px">RM-002</div>
<div class="c " style="left:236px;width:282px;padding-left:14px;padding-right:0px">Vis M24 X 50</div>
<div class="c num" style="left:520px;width:258px;padding-left:14px;padding-right:12px">1,00<span class="cad">CAD</span></div>
<div class="c num" style="left:780px;width:258px;padding-left:14px;padding-right:12px">500,00<span class="cad">CAD</span></div>
<div class="c " style="left:1040px;width:140px;padding-left:14px;padding-right:2px">Unité</div>
<div class="c num" style="left:1182px;width:178px;padding-left:14px;padding-right:12px">750</div>
<div class="c num" style="left:1362px;width:178px;padding-left:14px;padding-right:12px">0</div>
<div class="c num" style="left:1542px;width:178px;padding-left:14px;padding-right:12px">1250</div>
<div class="c num" style="left:1722px;width:178px;padding-left:14px;padding-right:12px">500</div>
<div class="c num" style="left:1902px;width:178px;padding-left:14px;padding-right:12px">0</div>
<div class="c num b" style="left:2082px;width:178px;padding-left:14px;padding-right:12px">500</div>
</div>
<div class="abs" style="left:10px;top:977px;width:2262px;height:60px">
<div class="abs" style="left:0;top:58px;width:2262px;height:2px;background:#e2e2e2"></div>
<div class="abs" style="left:0;top:-1px;width:68px;height:60px;border-right:3px solid #e0e0e0;border-radius:0 30px 30px 0;box-sizing:border-box"></div>
<svg class="ic" style="left:8px;top:5px;width:48px;height:48px" viewBox="0 0 24 24"><path fill="#5c2468" d="M10 18h5v-6h-5v6zm-6 0h5V5H4v13zm12 0h5v-6h-5v6zM10 5v6h11V5H10z"/></svg>
<div class="c ref" style="left:70px;width:164px;padding-left:14px;padding-right:0px">RM-003</div>
<div class="c " style="left:236px;width:282px;padding-left:14px;padding-right:0px">Essieu</div>
<div class="c num" style="left:520px;width:258px;padding-left:14px;padding-right:12px">75,00<span class="cad">CAD</span></div>
<div class="c num" style="left:780px;width:258px;padding-left:14px;padding-right:12px">300,00<span class="cad">CAD</span></div>
<div class="c " style="left:1040px;width:140px;padding-left:14px;padding-right:2px">Unité</div>
<div class="c num" style="left:1182px;width:178px;padding-left:14px;padding-right:12px">30</div>
<div class="c num" style="left:1362px;width:178px;padding-left:14px;padding-right:12px">0</div>
<div class="c num" style="left:1542px;width:178px;padding-left:14px;padding-right:12px">34</div>
<div class="c num" style="left:1722px;width:178px;padding-left:14px;padding-right:12px">4</div>
<div class="c num" style="left:1902px;width:178px;padding-left:14px;padding-right:12px">0</div>
<div class="c num b" style="left:2082px;width:178px;padding-left:14px;padding-right:12px">4</div>
</div>
<div class="abs" style="left:10px;top:1037px;width:2262px;height:60px">
<div class="abs" style="left:0;top:58px;width:2262px;height:2px;background:#e2e2e2"></div>
<div class="abs" style="left:0;top:-1px;width:68px;height:60px;border-right:3px solid #e0e0e0;border-radius:0 30px 30px 0;box-sizing:border-box"></div>
<svg class="ic" style="left:8px;top:5px;width:48px;height:48px" viewBox="0 0 24 24"><path fill="#5c2468" d="M10 18h5v-6h-5v6zm-6 0h5V5H4v13zm12 0h5v-6h-5v6zM10 5v6h11V5H10z"/></svg>
<div class="c ref" style="left:70px;width:164px;padding-left:14px;padding-right:0px">RM-004</div>
<div class="c " style="left:236px;width:282px;padding-left:14px;padding-right:0px">Roue</div>
<div class="c num" style="left:520px;width:258px;padding-left:14px;padding-right:12px">50,00<span class="cad">CAD</span></div>
<div class="c num" style="left:780px;width:258px;padding-left:14px;padding-right:12px">1 000,00<span class="cad">CAD</span></div>
<div class="c " style="left:1040px;width:140px;padding-left:14px;padding-right:2px">Unité</div>
<div class="c num" style="left:1182px;width:178px;padding-left:14px;padding-right:12px">60</div>
<div class="c num" style="left:1362px;width:178px;padding-left:14px;padding-right:12px">0</div>
<div class="c num" style="left:1542px;width:178px;padding-left:14px;padding-right:12px">80</div>
<div class="c num" style="left:1722px;width:178px;padding-left:14px;padding-right:12px">20</div>
<div class="c num" style="left:1902px;width:178px;padding-left:14px;padding-right:12px">0</div>
<div class="c num b" style="left:2082px;width:178px;padding-left:14px;padding-right:12px">20</div>
</div>
<div class="abs" style="left:10px;top:1097px;width:2262px;height:60px">
<div class="abs" style="left:0;top:58px;width:2262px;height:2px;background:#e2e2e2"></div>
<div class="abs" style="left:0;top:-1px;width:68px;height:60px;border-right:3px solid #e0e0e0;border-radius:0 30px 30px 0;box-sizing:border-box"></div>
<svg class="ic" style="left:8px;top:5px;width:48px;height:48px" viewBox="0 0 24 24"><path fill="#bdbdbd" d="M10 18h5v-6h-5v6zm-6 0h5V5H4v13zm12 0h5v-6h-5v6zM10 5v6h11V5H10z"/></svg>
<div class="c ref" style="left:70px;width:164px;padding-left:14px;padding-right:0px">Recette-…</div>
<div class="c " style="left:236px;width:282px;padding-left:14px;padding-right:0px">Chili Con Carne - 1 portion</div>
<div class="c " style="left:1040px;width:140px;padding-left:14px;padding-right:2px">Unité</div>
<div class="c num" style="left:1182px;width:178px;padding-left:14px;padding-right:12px">0</div>
<div class="c num" style="left:1362px;width:178px;padding-left:14px;padding-right:12px">2750</div>
<div class="c num" style="left:1542px;width:178px;padding-left:14px;padding-right:12px">-2750</div>
<div class="c num" style="left:1722px;width:178px;padding-left:14px;padding-right:12px">0</div>
<div class="c num" style="left:1902px;width:178px;padding-left:14px;padding-right:12px">0</div>
<div class="c num b" style="left:2082px;width:178px;padding-left:14px;padding-right:12px">0</div>
</div>
<div class="abs" style="left:10px;top:1157px;width:2262px;height:60px">
<div class="abs" style="left:0;top:58px;width:2262px;height:2px;background:#e2e2e2"></div>
<div class="abs" style="left:0;top:-1px;width:68px;height:60px;border-right:3px solid #e0e0e0;border-radius:0 30px 30px 0;box-sizing:border-box"></div>
<svg class="ic" style="left:8px;top:5px;width:48px;height:48px" viewBox="0 0 24 24"><path fill="#5c2468" d="M10 18h5v-6h-5v6zm-6 0h5V5H4v13zm12 0h5v-6h-5v6zM10 5v6h11V5H10z"/></svg>
<div class="c ref" style="left:70px;width:164px;padding-left:14px;padding-right:0px">Recette-…</div>
<div class="c " style="left:236px;width:282px;padding-left:14px;padding-right:0px">Poulet basquaise - 1 portion</div>
<div class="c " style="left:1040px;width:140px;padding-left:14px;padding-right:2px">Unité</div>
<div class="c num" style="left:1182px;width:178px;padding-left:14px;padding-right:12px">0</div>
<div class="c num" style="left:1362px;width:178px;padding-left:14px;padding-right:12px">2550</div>
<div class="c num" style="left:1542px;width:178px;padding-left:14px;padding-right:12px">-1300</div>
<div class="c num" style="left:1722px;width:178px;padding-left:14px;padding-right:12px">1250</div>
<div class="c num" style="left:1902px;width:178px;padding-left:14px;padding-right:12px">0</div>
<div class="c num b" style="left:2082px;width:178px;padding-left:14px;padding-right:12px">1250</div>
</div>
<div class="abs" style="left:10px;top:1217px;width:2262px;height:60px">
<div class="abs" style="left:0;top:58px;width:2262px;height:2px;background:#e2e2e2"></div>
<div class="abs" style="left:0;top:-1px;width:68px;height:60px;border-right:3px solid #e0e0e0;border-radius:0 30px 30px 0;box-sizing:border-box"></div>
<svg class="ic" style="left:8px;top:5px;width:48px;height:48px" viewBox="0 0 24 24"><path fill="#bdbdbd" d="M10 18h5v-6h-5v6zm-6 0h5V5H4v13zm12 0h5v-6h-5v6zM10 5v6h11V5H10z"/></svg>
<div class="c ref" style="left:70px;width:164px;padding-left:14px;padding-right:0px">Recette-…</div>
<div class="c " style="left:236px;width:282px;padding-left:14px;padding-right:0px">Hachis parmentier</div>
<div class="c " style="left:1040px;width:140px;padding-left:14px;padding-right:2px">Unité</div>
<div class="c num" style="left:1182px;width:178px;padding-left:14px;padding-right:12px">0</div>
<div class="c num" style="left:1362px;width:178px;padding-left:14px;padding-right:12px">3000</div>
<div class="c num" style="left:1542px;width:178px;padding-left:14px;padding-right:12px">-3000</div>
<div class="c num" style="left:1722px;width:178px;padding-left:14px;padding-right:12px">0</div>
<div class="c num" style="left:1902px;width:178px;padding-left:14px;padding-right:12px">0</div>
<div class="c num b" style="left:2082px;width:178px;padding-left:14px;padding-right:12px">0</div>
</div>
<div class="abs" style="left:10px;top:1277px;width:2262px;height:60px">
<div class="abs" style="left:0;top:58px;width:2262px;height:2px;background:#e2e2e2"></div>
<div class="abs" style="left:0;top:-1px;width:68px;height:60px;border-right:3px solid #e0e0e0;border-radius:0 30px 30px 0;box-sizing:border-box"></div>
<svg class="ic" style="left:8px;top:5px;width:48px;height:48px" viewBox="0 0 24 24"><path fill="#bdbdbd" d="M10 18h5v-6h-5v6zm-6 0h5V5H4v13zm12 0h5v-6h-5v6zM10 5v6h11V5H10z"/></svg>
<div class="c ref" style="left:70px;width:164px;padding-left:14px;padding-right:0px">Recette-…</div>
<div class="c " style="left:236px;width:282px;padding-left:14px;padding-right:0px">Pizza - 2 portions</div>
<div class="c " style="left:1040px;width:140px;padding-left:14px;padding-right:2px">Unité</div>
<div class="c num" style="left:1182px;width:178px;padding-left:14px;padding-right:12px">0</div>
<div class="c num" style="left:1362px;width:178px;padding-left:14px;padding-right:12px">1450</div>
<div class="c num" style="left:1542px;width:178px;padding-left:14px;padding-right:12px">-1450</div>
<div class="c num" style="left:1722px;width:178px;padding-left:14px;padding-right:12px">0</div>
<div class="c num" style="left:1902px;width:178px;padding-left:14px;padding-right:12px">0</div>
<div class="c num b" style="left:2082px;width:178px;padding-left:14px;padding-right:12px">0</div>
</div>
<div class="abs" style="left:10px;top:1337px;width:2262px;height:60px">
<div class="abs" style="left:0;top:58px;width:2262px;height:2px;background:#e2e2e2"></div>
<div class="abs" style="left:0;top:-1px;width:68px;height:60px;border-right:3px solid #e0e0e0;border-radius:0 30px 30px 0;box-sizing:border-box"></div>
<svg class="ic" style="left:8px;top:5px;width:48px;height:48px" viewBox="0 0 24 24"><path fill="#bdbdbd" d="M10 18h5v-6h-5v6zm-6 0h5V5H4v13zm12 0h5v-6h-5v6zM10 5v6h11V5H10z"/></svg>
<div class="c ref" style="left:70px;width:164px;padding-left:14px;padding-right:0px">Recette-…</div>
<div class="c " style="left:236px;width:282px;padding-left:14px;padding-right:0px">Sauté de Dinde - 1 portion</div>
<div class="c " style="left:1040px;width:140px;padding-left:14px;padding-right:2px">Unité</div>
<div class="c num" style="left:1182px;width:178px;padding-left:14px;padding-right:12px">0</div>
<div class="c num" style="left:1362px;width:178px;padding-left:14px;padding-right:12px">2550</div>
<div class="c num" style="left:1542px;width:178px;padding-left:14px;padding-right:12px">-2550</div>
<div class="c num" style="left:1722px;width:178px;padding-left:14px;padding-right:12px">0</div>
<div class="c num" style="left:1902px;width:178px;padding-left:14px;padding-right:12px">0</div>
<div class="c num b" style="left:2082px;width:178px;padding-left:14px;padding-right:12px">0</div>
</div>
<div class="abs" style="left:10px;top:1397px;width:2262px;height:60px">
<div class="abs" style="left:0;top:58px;width:2262px;height:2px;background:#e2e2e2"></div>
<div class="abs" style="left:0;top:-1px;width:68px;height:60px;border-right:3px solid #e0e0e0;border-radius:0 30px 30px 0;box-sizing:border-box"></div>
<svg class="ic" style="left:8px;top:5px;width:48px;height:48px" viewBox="0 0 24 24"><path fill="#5c2468" d="M10 18h5v-6h-5v6zm-6 0h5V5H4v13zm12 0h5v-6h-5v6zM10 5v6h11V5H10z"/></svg>
<div class="c ref" style="left:70px;width:164px;padding-left:14px;padding-right:0px">SF-001</div>
<div class="c " style="left:236px;width:282px;padding-left:14px;padding-right:0px">Chassis</div>
<div class="c num" style="left:520px;width:258px;padding-left:14px;padding-right:12px">300,00<span class="cad">CAD</span></div>
<div class="c num" style="left:780px;width:258px;padding-left:14px;padding-right:12px">1 200,00<span class="cad">CAD</span></div>
<div class="c " style="left:1040px;width:140px;padding-left:14px;padding-right:2px">Unité</div>
<div class="c num" style="left:1182px;width:178px;padding-left:14px;padding-right:12px">0</div>
<div class="c num" style="left:1362px;width:178px;padding-left:14px;padding-right:12px">0</div>
<div class="c num" style="left:1542px;width:178px;padding-left:14px;padding-right:12px">2</div>
<div class="c num" style="left:1722px;width:178px;padding-left:14px;padding-right:12px">2</div>
<div class="c num" style="left:1902px;width:178px;padding-left:14px;padding-right:12px">0</div>
<div class="c num b" style="left:2082px;width:178px;padding-left:14px;padding-right:12px">2</div>
</div>
<div class="abs" style="left:10px;top:1457px;width:2262px;height:60px">
<div class="abs" style="left:0;top:58px;width:2262px;height:2px;background:#e2e2e2"></div>
<div class="abs" style="left:0;top:-1px;width:68px;height:60px;border-right:3px solid #e0e0e0;border-radius:0 30px 30px 0;box-sizing:border-box"></div>
<svg class="ic" style="left:8px;top:5px;width:48px;height:48px" viewBox="0 0 24 24"><path fill="#5c2468" d="M10 18h5v-6h-5v6zm-6 0h5V5H4v13zm12 0h5v-6h-5v6zM10 5v6h11V5H10z"/></svg>
<div class="c ref" style="left:70px;width:164px;padding-left:14px;padding-right:0px">TRAILE…</div>
<div class="c " style="left:236px;width:282px;padding-left:14px;padding-right:0px">Remarque 2 essieux type</div>
<div class="c num" style="left:520px;width:258px;padding-left:14px;padding-right:12px">1 000,00<span class="cad">CAD</span></div>
<div class="c num" style="left:780px;width:258px;padding-left:14px;padding-right:12px">3 000,00<span class="cad">CAD</span></div>
<div class="c " style="left:1040px;width:140px;padding-left:14px;padding-right:2px">Unité</div>
<div class="c num" style="left:1182px;width:178px;padding-left:14px;padding-right:12px">0</div>
<div class="c num" style="left:1362px;width:178px;padding-left:14px;padding-right:12px">19</div>
<div class="c num" style="left:1542px;width:178px;padding-left:14px;padding-right:12px">-18</div>
<div class="c num" style="left:1722px;width:178px;padding-left:14px;padding-right:12px">1</div>
<div class="c num" style="left:1902px;width:178px;padding-left:14px;padding-right:12px">1</div>
<div class="c num b" style="left:2082px;width:178px;padding-left:14px;padding-right:12px">2</div>
</div>
<div class="abs" style="left:80px;top:1638px;width:2192px;height:10px;background:#e0e0e0"></div>
<div class="abs" style="left:2272px;top:189px;width:2px;height:1459px;background:#dedede"></div>
<div class="abs" style="left:2274px;top:269px;width:478px;height:2px;background:#dedede"></div>
<div class="abs" style="left:2752px;top:189px;width:2px;height:1459px;background:#e4e4e4"></div>
<div class="abs" style="left:2742px;top:271px;width:10px;height:1377px;background:#f7f7f7"></div>
<div class="abs" style="left:2742px;top:271px;width:10px;height:1193px;background:#e0e0e0"></div>
<svg class="ic" style="left:2290px;top:212.6px;width:32px;height:32px;" viewBox="0 0 24 24"><path fill="#666" d="M16.59 8.59L12 13.17 7.41 8.59 6 10l6 6 6-6z"/></svg>
<div class="cb on" style="left:2332px;top:213px"></div>
<div class="abs" style="left:2339px;top:227px;width:18px;height:4.500px;background:#fff"></div>
<div class="tp" style="left:2384px;top:212px;color:#8a8a8a">Rechercher...</div>
<div class="abs" style="left:2374px;top:250px;width:362px;height:4px;background:#e2e2e2"></div>
<div class="abs" style="left:2274px;top:271px;width:468px;height:1377px;overflow:hidden"><div class="abs" style="left:-2274px;top:-271px">
<div class="cb dis" style="left:2350px;top:293px"></div>
<svg class="ic" style="left:2350px;top:293px;width:32px;height:32px" viewBox="0 0 32 32"><path d="M4.900 15.400 L12.400 22.600 L27.100 7.600" fill="none" stroke="#fff" stroke-width="3.400"/></svg>
<div class="abs" style="left:2397.2px;top:305.3px;width:21.600px;height:2.200px;background:#666"></div><div class="abs" style="left:2397.2px;top:310.5px;width:21.600px;height:2.200px;background:#666"></div>
<div class="tp" style="left:2434.5px;top:293px;color:#8a8a8a">Action</div>
<svg class="ic" style="left:2290px;top:348.6px;width:32px;height:32px;" viewBox="0 0 24 24"><path fill="#666" d="M16.59 8.59L12 13.17 7.41 8.59 6 10l6 6 6-6z"/></svg>
<div class="cb on" style="left:2332px;top:349px"></div>
<svg class="ic" style="left:2332px;top:349px;width:32px;height:32px" viewBox="0 0 32 32"><path d="M4.900 15.400 L12.400 22.600 L27.100 7.600" fill="none" stroke="#fff" stroke-width="3.400"/></svg>
<div class="abs" style="left:2379.2px;top:361.3px;width:21.600px;height:2.200px;background:#666"></div><div class="abs" style="left:2379.2px;top:366.5px;width:21.600px;height:2.200px;background:#666"></div>
<div class="tp" style="left:2416.5px;top:349px;color:#1f1f1f">Produit</div>
<div class="cb on" style="left:2374px;top:405px"></div>
<svg class="ic" style="left:2374px;top:405px;width:32px;height:32px" viewBox="0 0 32 32"><path d="M4.900 15.400 L12.400 22.600 L27.100 7.600" fill="none" stroke="#fff" stroke-width="3.400"/></svg>
<div class="abs" style="left:2421.2px;top:417.3px;width:21.600px;height:2.200px;background:#666"></div><div class="abs" style="left:2421.2px;top:422.5px;width:21.600px;height:2.200px;background:#666"></div>
<div class="tp" style="left:2458.5px;top:405px;color:#1f1f1f">Référence</div>
<div class="cb on" style="left:2374px;top:461px"></div>
<svg class="ic" style="left:2374px;top:461px;width:32px;height:32px" viewBox="0 0 32 32"><path d="M4.900 15.400 L12.400 22.600 L27.100 7.600" fill="none" stroke="#fff" stroke-width="3.400"/></svg>
<div class="abs" style="left:2421.2px;top:473.3px;width:21.600px;height:2.200px;background:#666"></div><div class="abs" style="left:2421.2px;top:478.5px;width:21.600px;height:2.200px;background:#666"></div>
<div class="tp" style="left:2458.5px;top:461px;color:#1f1f1f">Nom</div>
<svg class="ic" style="left:2290px;top:516.6px;width:32px;height:32px;" viewBox="0 0 24 24"><path fill="#666" d="M16.59 8.59L12 13.17 7.41 8.59 6 10l6 6 6-6z"/></svg>
<div class="cb on" style="left:2332px;top:517px"></div>
<svg class="ic" style="left:2332px;top:517px;width:32px;height:32px" viewBox="0 0 32 32"><path d="M4.900 15.400 L12.400 22.600 L27.100 7.600" fill="none" stroke="#fff" stroke-width="3.400"/></svg>
<div class="abs" style="left:2379.2px;top:529.3px;width:21.600px;height:2.200px;background:#666"></div><div class="abs" style="left:2379.2px;top:534.5px;width:21.600px;height:2.200px;background:#666"></div>
<div class="tp" style="left:2416.5px;top:517px;color:#1f1f1f">Coût</div>
<div class="cb on" style="left:2374px;top:573px"></div>
<svg class="ic" style="left:2374px;top:573px;width:32px;height:32px" viewBox="0 0 32 32"><path d="M4.900 15.400 L12.400 22.600 L27.100 7.600" fill="none" stroke="#fff" stroke-width="3.400"/></svg>
<div class="abs" style="left:2421.2px;top:585.3px;width:21.600px;height:2.200px;background:#666"></div><div class="abs" style="left:2421.2px;top:590.5px;width:21.600px;height:2.200px;background:#666"></div>
<div class="tp" style="left:2458.5px;top:573px;color:#1f1f1f">Unitaire</div>
<div class="cb on" style="left:2374px;top:629px"></div>
<svg class="ic" style="left:2374px;top:629px;width:32px;height:32px" viewBox="0 0 32 32"><path d="M4.900 15.400 L12.400 22.600 L27.100 7.600" fill="none" stroke="#fff" stroke-width="3.400"/></svg>
<div class="abs" style="left:2421.2px;top:641.3px;width:21.600px;height:2.200px;background:#666"></div><div class="abs" style="left:2421.2px;top:646.5px;width:21.600px;height:2.200px;background:#666"></div>
<div class="tp" style="left:2458.5px;top:629px;color:#1f1f1f">Total</div>
<div class="cb on" style="left:2350px;top:685px"></div>
<svg class="ic" style="left:2350px;top:685px;width:32px;height:32px" viewBox="0 0 32 32"><path d="M4.900 15.400 L12.400 22.600 L27.100 7.600" fill="none" stroke="#fff" stroke-width="3.400"/></svg>
<div class="abs" style="left:2397.2px;top:697.3px;width:21.600px;height:2.200px;background:#666"></div><div class="abs" style="left:2397.2px;top:702.5px;width:21.600px;height:2.200px;background:#666"></div>
<div class="tp" style="left:2434.5px;top:685px;color:#1f1f1f">Unité de stock</div>
<svg class="ic" style="left:2290px;top:740.6px;width:32px;height:32px;" viewBox="0 0 24 24"><path fill="#666" d="M16.59 8.59L12 13.17 7.41 8.59 6 10l6 6 6-6z"/></svg>
<div class="cb on" style="left:2332px;top:741px"></div>
<svg class="ic" style="left:2332px;top:741px;width:32px;height:32px" viewBox="0 0 32 32"><path d="M4.900 15.400 L12.400 22.600 L27.100 7.600" fill="none" stroke="#fff" stroke-width="3.400"/></svg>
<div class="abs" style="left:2379.2px;top:753.3px;width:21.600px;height:2.200px;background:#666"></div><div class="abs" style="left:2379.2px;top:758.5px;width:21.600px;height:2.200px;background:#666"></div>
<div class="tp" style="left:2416.5px;top:741px;color:#1f1f1f">Projection</div>
<div class="cb on" style="left:2374px;top:797px"></div>
<svg class="ic" style="left:2374px;top:797px;width:32px;height:32px" viewBox="0 0 32 32"><path d="M4.900 15.400 L12.400 22.600 L27.100 7.600" fill="none" stroke="#fff" stroke-width="3.400"/></svg>
<div class="abs" style="left:2421.2px;top:809.3px;width:21.600px;height:2.200px;background:#666"></div><div class="abs" style="left:2421.2px;top:814.5px;width:21.600px;height:2.200px;background:#666"></div>
<div class="tp" style="left:2458.5px;top:797px;color:#1f1f1f">En achat</div>
<div class="cb on" style="left:2374px;top:853px"></div>
<svg class="ic" style="left:2374px;top:853px;width:32px;height:32px" viewBox="0 0 32 32"><path d="M4.900 15.400 L12.400 22.600 L27.100 7.600" fill="none" stroke="#fff" stroke-width="3.400"/></svg>
<div class="abs" style="left:2421.2px;top:865.3px;width:21.600px;height:2.200px;background:#666"></div><div class="abs" style="left:2421.2px;top:870.5px;width:21.600px;height:2.200px;background:#666"></div>
<div class="tp" style="left:2458.5px;top:853px;color:#1f1f1f">En vente</div>
<div class="cb on" style="left:2374px;top:909px"></div>
<svg class="ic" style="left:2374px;top:909px;width:32px;height:32px" viewBox="0 0 32 32"><path d="M4.900 15.400 L12.400 22.600 L27.100 7.600" fill="none" stroke="#fff" stroke-width="3.400"/></svg>
<div class="abs" style="left:2421.2px;top:921.3px;width:21.600px;height:2.200px;background:#666"></div><div class="abs" style="left:2421.2px;top:926.5px;width:21.600px;height:2.200px;background:#666"></div>
<div class="tp" style="left:2458.5px;top:909px;color:#1f1f1f">Projeté</div>
<svg class="ic" style="left:2290px;top:964.6px;width:32px;height:32px;" viewBox="0 0 24 24"><path fill="#666" d="M16.59 8.59L12 13.17 7.41 8.59 6 10l6 6 6-6z"/></svg>
<div class="cb on" style="left:2332px;top:965px"></div>
<svg class="ic" style="left:2332px;top:965px;width:32px;height:32px" viewBox="0 0 32 32"><path d="M4.900 15.400 L12.400 22.600 L27.100 7.600" fill="none" stroke="#fff" stroke-width="3.400"/></svg>
<div class="abs" style="left:2379.2px;top:977.3px;width:21.600px;height:2.200px;background:#666"></div><div class="abs" style="left:2379.2px;top:982.5px;width:21.600px;height:2.200px;background:#666"></div>
<div class="tp" style="left:2416.5px;top:965px;color:#1f1f1f">Stock</div>
<div class="cb on" style="left:2374px;top:1021px"></div>
<svg class="ic" style="left:2374px;top:1021px;width:32px;height:32px" viewBox="0 0 32 32"><path d="M4.900 15.400 L12.400 22.600 L27.100 7.600" fill="none" stroke="#fff" stroke-width="3.400"/></svg>
<div class="abs" style="left:2421.2px;top:1033.3px;width:21.600px;height:2.200px;background:#666"></div><div class="abs" style="left:2421.2px;top:1038.5px;width:21.600px;height:2.200px;background:#666"></div>
<div class="tp" style="left:2458.5px;top:1021px;color:#1f1f1f">Disponible</div>
<div class="cb on" style="left:2374px;top:1077px"></div>
<svg class="ic" style="left:2374px;top:1077px;width:32px;height:32px" viewBox="0 0 32 32"><path d="M4.900 15.400 L12.400 22.600 L27.100 7.600" fill="none" stroke="#fff" stroke-width="3.400"/></svg>
<div class="abs" style="left:2421.2px;top:1089.3px;width:21.600px;height:2.200px;background:#666"></div><div class="abs" style="left:2421.2px;top:1094.5px;width:21.600px;height:2.200px;background:#666"></div>
<div class="tp" style="left:2458.5px;top:1077px;color:#1f1f1f">Réservé</div>
<div class="cb on" style="left:2374px;top:1133px"></div>
<svg class="ic" style="left:2374px;top:1133px;width:32px;height:32px" viewBox="0 0 32 32"><path d="M4.900 15.400 L12.400 22.600 L27.100 7.600" fill="none" stroke="#fff" stroke-width="3.400"/></svg>
<div class="abs" style="left:2421.2px;top:1145.3px;width:21.600px;height:2.200px;background:#666"></div><div class="abs" style="left:2421.2px;top:1150.5px;width:21.600px;height:2.200px;background:#666"></div>
<div class="tp" style="left:2458.5px;top:1133px;color:#1f1f1f">Total</div>
<svg class="ic" style="left:2290px;top:1188.6px;width:32px;height:32px;" viewBox="0 0 24 24"><path fill="#666" d="M16.59 8.59L12 13.17 7.41 8.59 6 10l6 6 6-6z"/></svg>
<div class="cb off" style="left:2332px;top:1189px"></div>
<div class="abs" style="left:2379.2px;top:1201.3px;width:21.600px;height:2.200px;background:#666"></div><div class="abs" style="left:2379.2px;top:1206.5px;width:21.600px;height:2.200px;background:#666"></div>
<div class="tp" style="left:2416.5px;top:1189px;color:#1f1f1f">Statut A</div>
<div class="cb off" style="left:2374px;top:1245px"></div>
<div class="abs" style="left:2421.2px;top:1257.3px;width:21.600px;height:2.200px;background:#666"></div><div class="abs" style="left:2421.2px;top:1262.5px;width:21.600px;height:2.200px;background:#666"></div>
<div class="tp" style="left:2458.5px;top:1245px;color:#1f1f1f">Disponible</div>
<div class="cb off" style="left:2374px;top:1301px"></div>
<div class="abs" style="left:2421.2px;top:1313.3px;width:21.600px;height:2.200px;background:#666"></div><div class="abs" style="left:2421.2px;top:1318.5px;width:21.600px;height:2.200px;background:#666"></div>
<div class="tp" style="left:2458.5px;top:1301px;color:#1f1f1f">Réservé</div>
<div class="cb off" style="left:2374px;top:1357px"></div>
<div class="abs" style="left:2421.2px;top:1369.3px;width:21.600px;height:2.200px;background:#666"></div><div class="abs" style="left:2421.2px;top:1374.5px;width:21.600px;height:2.200px;background:#666"></div>
<div class="tp" style="left:2458.5px;top:1357px;color:#1f1f1f">Total</div>
<svg class="ic" style="left:2290px;top:1412.6px;width:32px;height:32px;" viewBox="0 0 24 24"><path fill="#666" d="M16.59 8.59L12 13.17 7.41 8.59 6 10l6 6 6-6z"/></svg>
<div class="cb off" style="left:2332px;top:1413px"></div>
<div class="abs" style="left:2379.2px;top:1425.3px;width:21.600px;height:2.200px;background:#666"></div><div class="abs" style="left:2379.2px;top:1430.5px;width:21.600px;height:2.200px;background:#666"></div>
<div class="tp" style="left:2416.5px;top:1413px;color:#1f1f1f">Statut Q</div>
<div class="cb off" style="left:2374px;top:1469px"></div>
<div class="abs" style="left:2421.2px;top:1481.3px;width:21.600px;height:2.200px;background:#666"></div><div class="abs" style="left:2421.2px;top:1486.5px;width:21.600px;height:2.200px;background:#666"></div>
<div class="tp" style="left:2458.5px;top:1469px;color:#1f1f1f">Disponible</div>
<div class="cb off" style="left:2374px;top:1525px"></div>
<div class="abs" style="left:2421.2px;top:1537.3px;width:21.600px;height:2.200px;background:#666"></div><div class="abs" style="left:2421.2px;top:1542.5px;width:21.600px;height:2.200px;background:#666"></div>
<div class="tp" style="left:2458.5px;top:1525px;color:#1f1f1f">Réservé</div>
<div class="cb off" style="left:2374px;top:1581px"></div>
<div class="abs" style="left:2421.2px;top:1593.3px;width:21.600px;height:2.200px;background:#666"></div><div class="abs" style="left:2421.2px;top:1598.5px;width:21.600px;height:2.200px;background:#666"></div>
<div class="tp" style="left:2458.5px;top:1581px;color:#1f1f1f">Total</div>
<svg class="ic" style="left:2290px;top:1636.6px;width:32px;height:32px;" viewBox="0 0 24 24"><path fill="#666" d="M16.59 8.59L12 13.17 7.41 8.59 6 10l6 6 6-6z"/></svg>
<div class="cb off" style="left:2332px;top:1637px"></div>
<div class="abs" style="left:2379.2px;top:1649.3px;width:21.600px;height:2.200px;background:#666"></div><div class="abs" style="left:2379.2px;top:1654.5px;width:21.600px;height:2.200px;background:#666"></div>
<div class="tp" style="left:2416.5px;top:1637px;color:#1f1f1f">Statut R</div>
</div></div>
<div class="abs" style="left:2754px;top:245px;width:4px;height:252px;background:#ee8a2c"></div>
<svg class="ic" style="left:2764px;top:297px;width:32px;height:32px;" viewBox="0 0 24 24"><path fill="#222" d="M4 8h4V4H4v4zm6 12h4v-4h-4v4zm-6 0h4v-4H4v4zm0-6h4v-4H4v4zm6 0h4v-4h-4v4zm6-10v4h4V4h-4zm-6 4h4V4h-4v4zm6 6h4v-4h-4v4zm0 6h4v-4h-4v4z"/></svg>
<div class="t" style="left:2781px;top:336px;font-size:26px;color:#1f1f1f;transform-origin:0 0;transform:rotate(90deg) translate(0,-50%)">Colonnes</div>
<div class="abs" style="left:2824px;top:107px;width:84px;height:1542px;border:2px solid #ebebec;border-radius:9px;box-sizing:border-box;background:#fff"></div>
<div class="abs" style="left:2826px;top:189px;width:80px;height:2px;background:#ececee"></div>
<div class="abs" style="left:2826px;top:271px;width:80px;height:2px;background:#ececee"></div>
<div class="abs" style="left:2826px;top:353px;width:80px;height:2px;background:#ececee"></div>
<div class="abs" style="left:2826px;top:435px;width:80px;height:2px;background:#ececee"></div>
<div class="abs" style="left:2826px;top:517px;width:80px;height:2px;background:#ececee"></div>
<div class="abs" style="left:2826px;top:599px;width:80px;height:2px;background:#ececee"></div>
<div class="abs" style="left:2826px;top:681px;width:80px;height:2px;background:#ececee"></div>
<div class="abs" style="left:2826px;top:763px;width:80px;height:2px;background:#ececee"></div>
<div class="abs" style="left:2826px;top:845px;width:80px;height:2px;background:#ececee"></div>
<div class="abs" style="left:2826px;top:1566px;width:80px;height:2px;background:#ececee"></div>
<svg class="ic" style="left:2838px;top:121px;width:56px;height:56px" viewBox="0 0 56 56" fill="none" stroke="#5cb57e">
<path d="M44.300 32 V45.500 Q44.300 49 40.800 49 H15.200 Q11.700 49 11.700 45.500 V10.500 Q11.700 7 15.200 7 H31.500" stroke-width="4.700"/>
<path d="M30.200 20.300 V9.300 H29 V4.660 H32.660 L39.300 11.400 Z" fill="#5cb57e" stroke="none"/>
<path d="M46.650 25 L46.650 32 L41.950 32 L41.950 29.400 Z" fill="#5cb57e" stroke="none"/>
<path d="M35.100 22.500 L46.100 12.100 L49.400 15.400 L38.700 26.900 L34.900 26.900 Z" fill="#5cb57e" stroke="none"/>
<path d="M47.500 10.150 L49.700 7.960 Q50.400 7.300 51.100 8 L53 10.250 Q53.600 11 53 11.700 L50.800 14 Z" fill="#5cb57e" stroke="none"/>
<path d="M18.100 25.300C18.600 24.900 20.100 23.200 21.100 23.300C22.100 23.500 24.000 25.100 24.100 26.400C24.300 27.600 22.800 29.400 21.900 30.800C21.100 32.100 19.100 33.300 18.900 34.600C18.800 35.900 20.300 38.000 21.100 38.500C21.900 38.900 22.900 38.300 23.900 37.400C24.900 36.400 26.100 34.100 27.200 33.000C28.300 31.800 29.400 30.400 30.500 30.200C31.600 30.000 32.900 30.800 33.800 31.900C34.600 32.900 35.500 34.700 35.400 36.300C35.300 37.800 34.100 40.100 33.200 41.200C32.300 42.300 30.900 43.200 29.900 43.100C29.000 43.000 27.500 41.600 27.400 40.600C27.300 39.700 28.300 38.300 29.400 37.400C30.400 36.400 32.200 35.200 33.800 34.900C35.300 34.500 37.900 35.100 38.700 35.200" stroke-width="2.500" stroke-linecap="butt"/>
</svg>
<svg class="ic" style="left:2838px;top:203px;width:56px;height:56px;" viewBox="0 0 24 24"><path fill="#57b173" d="M11 9h2V6h3V4h-3V1h-2v3H8v2h3v3zm-4 9c-1.1 0-1.99.9-1.99 2S5.9 22 7 22s2-.9 2-2-.9-2-2-2zm10 0c-1.1 0-1.99.9-1.99 2s.89 2 1.99 2 2-.9 2-2-.9-2-2-2zm-9.830-3.250l.030-.120.9-1.630h7.450c.75 0 1.410-.410 1.750-1.030l3.860-7.010L19.420 4h-.010l-1.100 2-2.760 5H8.530l-.130-.270L6.160 6l-.950-2-.940-2H1v2h2l3.600 7.590-1.350 2.450c-.160.280-.250.610-.250.960 0 1.100.9 2 2 2h12v-2H7.420c-.130 0-.250-.110-.250-.250z"/></svg>
<svg class="ic" style="left:2838px;top:285px;width:56px;height:56px;transform:scaleX(-1);" viewBox="0 0 24 24"><path fill="#ec8576" d="M11 9h2V6h3V4h-3V1h-2v3H8v2h3v3zm-4 9c-1.1 0-1.99.9-1.99 2S5.9 22 7 22s2-.9 2-2-.9-2-2-2zm10 0c-1.1 0-1.99.9-1.99 2s.89 2 1.99 2 2-.9 2-2-.9-2-2-2zm-9.830-3.250l.030-.120.9-1.630h7.450c.75 0 1.410-.410 1.750-1.030l3.860-7.010L19.420 4h-.010l-1.100 2-2.760 5H8.530l-.130-.270L6.160 6l-.950-2-.940-2H1v2h2l3.600 7.590-1.350 2.450c-.160.280-.250.610-.250.960 0 1.100.9 2 2 2h12v-2H7.420c-.130 0-.250-.110-.250-.250z"/></svg>
<svg class="ic" style="left:2838px;top:367px;width:56px;height:56px;" viewBox="0 0 24 24"><path fill="#4285f4" d="M13.783 15.172l2.121-2.121 5.996 5.996-2.121 2.121zM17.5 10c1.93 0 3.5-1.57 3.5-3.5 0-.58-.16-1.12-.41-1.6l-2.7 2.7-1.49-1.49 2.7-2.7c-.48-.25-1.02-.41-1.6-.41C15.57 3 14 4.57 14 6.5c0 .41.08.8.21 1.16l-1.850 1.850-1.780-1.780.71-.71-1.410-1.410L12 3.490c-1.170-1.170-3.070-1.170-4.240 0L4.220 7.030l1.410 1.410H2.810l-.71.71 3.540 3.540.71-.71V9.150l1.410 1.410.71-.71 1.780 1.780-7.410 7.410 2.120 2.120L16.340 9.790c.36.130.75.210 1.160.210z"/></svg>
<svg class="ic" style="left:2838px;top:449px;width:56px;height:56px;" viewBox="0 0 24 24"><path fill="#e8502a" d="M20 6h-8l-2-2H4c-1.1 0-2 .9-2 2v12c0 1.100.9 2 2 2h16c1.100 0 2-.9 2-2V8c0-1.100-.9-2-2-2zm0 12H4V6h5.170l2 2H20v10zm-6.920-3.960L12.390 17 15 15.470 17.610 17l-.69-2.960 2.300-1.990-3.030-.26L15 9l-1.190 2.790-3.030.26z"/></svg>
<svg class="ic" style="left:2838px;top:531px;width:56px;height:56px;" viewBox="0 0 24 24"><path fill="#f6d743" d="M22 9.24l-7.19-.62L12 2 9.19 8.63 2 9.24l5.46 4.73L5.82 21 12 17.27 18.18 21l-1.63-7.03L22 9.24zM12 15.4l-3.76 2.27 1-4.28-3.32-2.88 4.38-.38L12 6.1l1.71 4.04 4.38.38-3.32 2.88 1 4.28L12 15.4z"/></svg>
<svg class="ic" style="left:2838px;top:613px;width:56px;height:56px;" viewBox="0 0 24 24"><path fill="#e8301f" d="M20.38 8.57l-1.230 1.850a8 8 0 0 1-.22 7.580H5.070A8 8 0 0 1 15.580 6.850l1.850-1.230A10 10 0 0 0 3.350 19a2 2 0 0 0 1.720 1h13.850a2 2 0 0 0 1.740-1 10 10 0 0 0-.27-10.440zm-9.790 6.840a2 2 0 0 0 2.830 0l5.660-8.490-8.490 5.660a2 2 0 0 0 0 2.830z"/></svg>
<svg class="ic" style="left:2838px;top:695px;width:56px;height:56px" viewBox="0 0 56 56" fill="none" stroke="#57b37a" stroke-width="3.700">
<path d="M13.500 42.300 A19 19 0 0 1 27.900 10.900 L33 11.100"/>
<path d="M26.200 4.400 L34.600 11.250 L26.200 19.300" stroke-linejoin="miter"/>
<path d="M40.600 15.800 A19 19 0 0 1 42.450 42.100"/>
<g transform="translate(0 1) scale(2.33333)" stroke="none" fill="#57b37a"><path d="M15.500 13.500c0 2-2.500 3.500-2.500 5h-2c0-1.500-2.500-3-2.500-5 0-1.930 1.570-3.500 3.500-3.500s3.500 1.570 3.500 3.500zm-2.500 6.100h-2V20.700h2v-1.100z"/></g>
</svg>
<svg class="ic" style="left:2838px;top:777px;width:56px;height:56px;" viewBox="0 0 24 24"><path fill="#aa2596" d="M22 9.24l-7.19-.62L12 2 9.19 8.63 2 9.24l5.46 4.73L5.82 21 12 17.27 18.18 21l-1.63-7.03L22 9.24zM12 15.4l-3.76 2.27 1-4.28-3.32-2.88 4.38-.38L12 6.1l1.71 4.04 4.38.38-3.32 2.88 1 4.28L12 15.4z"/></svg>
<svg class="ic" style="left:2838px;top:859px;width:56px;height:56px;" viewBox="0 0 24 24"><path fill="#f6d743" d="M22 9.24l-7.19-.62L12 2 9.19 8.63 2 9.24l5.46 4.73L5.82 21 12 17.27 18.18 21l-1.63-7.03L22 9.24zM12 15.4l-3.76 2.27 1-4.28-3.32-2.88 4.38-.38L12 6.1l1.71 4.04 4.38.38-3.32 2.88 1 4.28L12 15.4z"/></svg>
<svg class="ic" style="left:2838px;top:1580px;width:56px;height:56px;" viewBox="0 0 24 24"><path fill="#f3b27a" d="M19.43 12.98c.04-.32.07-.64.07-.98 0-.34-.03-.66-.07-.98l2.110-1.650c.19-.15.24-.42.12-.64l-2-3.460c-.09-.16-.26-.25-.44-.25-.06 0-.12.01-.17.03l-2.490 1c-.52-.4-1.080-.73-1.690-.98l-.38-2.650C14.460 2.180 14.250 2 14 2h-4c-.25 0-.46.18-.49.42l-.38 2.650c-.61.25-1.170.59-1.690.98l-2.490-1c-.06-.02-.12-.03-.18-.03-.17 0-.34.09-.43.25l-2 3.460c-.13.22-.07.49.12.64l2.110 1.650c-.04.32-.07.65-.07.98 0 .33.03.66.07.98l-2.110 1.650c-.19.15-.24.42-.12.64l2 3.460c.09.16.26.25.44.25.06 0 .12-.01.17-.03l2.490-1c.52.4 1.080.73 1.690.98l.38 2.650c.03.24.24.42.49.42h4c.25 0 .46-.18.49-.42l.38-2.650c.61-.25 1.170-.59 1.690-.98l2.490 1c.06.02.12.03.18.03.17 0 .34-.09.43-.25l2-3.460c.12-.22.07-.49-.12-.64l-2.110-1.650zm-1.980-1.710c.04.31.05.52.05.73 0 .21-.02.43-.05.73l-.14 1.130.89.7 1.080.84-.7 1.210-1.270-.51-1.040-.42-.9.68c-.43.32-.84.56-1.250.73l-1.060.43-.16 1.130-.2 1.350h-1.400l-.19-1.350-.16-1.130-1.060-.43c-.43-.18-.83-.41-1.230-.71l-.91-.7-1.060.43-1.270.51-.7-1.210 1.080-.84.89-.7-.14-1.130c-.03-.31-.05-.54-.05-.74s.02-.43.05-.73l.14-1.130-.89-.7-1.080-.84.7-1.210 1.270.51 1.040.42.9-.68c.43-.32.84-.56 1.250-.73l1.060-.43.16-1.130.2-1.350h1.390l.19 1.350.16 1.130 1.060.43c.43.18.83.41 1.230.71l.91.7 1.060-.43 1.270-.51.7 1.210-1.070.85-.89.7.14 1.130zM12 8c-2.210 0-4 1.790-4 4s1.790 4 4 4 4-1.790 4-4-1.790-4-4-4zm0 6c-1.100 0-2-.9-2-2s.9-2 2-2 2 .9 2 2-.9 2-2 2z"/></svg>
</body></html>
